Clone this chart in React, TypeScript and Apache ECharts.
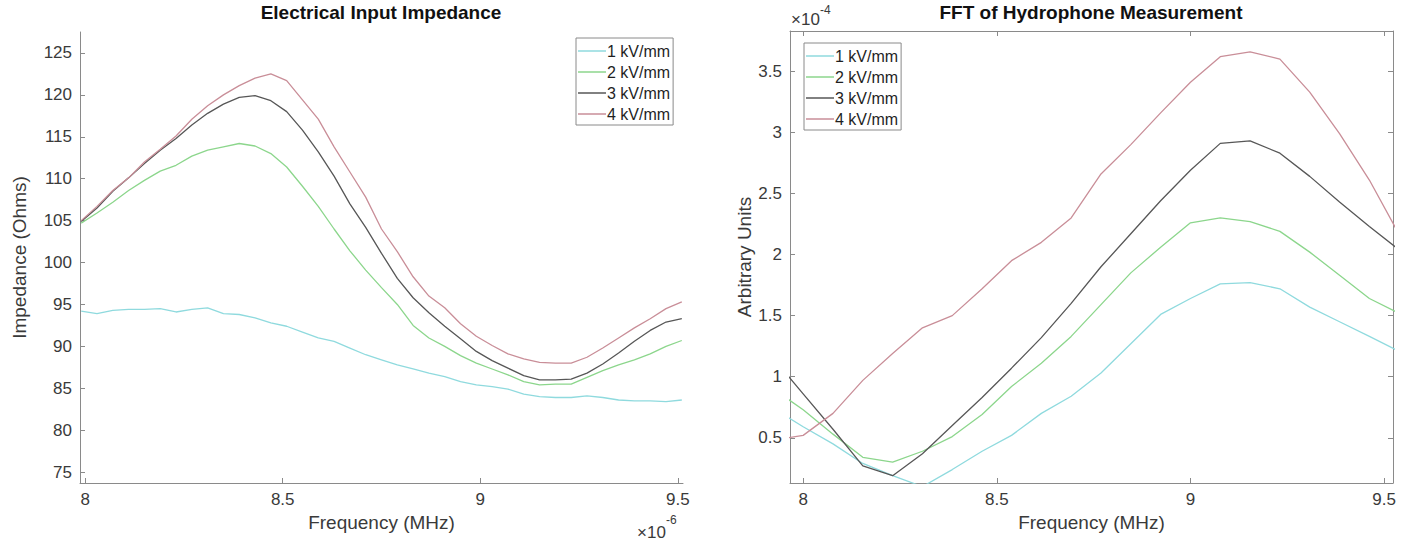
import React, { useEffect, useRef } from "react";
import * as echarts from "echarts";

// ---------- Electrical Input Impedance (Ohms) vs Frequency (MHz) ----------
const FREQ_Z = [7.99, 8.03, 8.07, 8.11, 8.15, 8.19, 8.23, 8.27, 8.31, 8.35, 8.39, 8.43, 8.47, 8.51, 8.55, 8.59, 8.63, 8.67, 8.71, 8.75, 8.79, 8.83, 8.87, 8.91, 8.95, 8.99, 9.03, 9.07, 9.11, 9.15, 9.19, 9.23, 9.27, 9.31, 9.35, 9.39, 9.43, 9.47, 9.51];
const Z_1KV = [94.2, 93.9, 94.3, 94.4, 94.4, 94.5, 94.1, 94.4, 94.6, 93.9, 93.8, 93.4, 92.8, 92.4, 91.7, 91.0, 90.6, 89.8, 89.0, 88.4, 87.8, 87.3, 86.8, 86.4, 85.8, 85.4, 85.2, 84.9, 84.3, 84.0, 83.9, 83.9, 84.1, 83.9, 83.6, 83.5, 83.5, 83.4, 83.6];
const Z_2KV = [104.7, 105.9, 107.2, 108.6, 109.8, 110.9, 111.6, 112.7, 113.4, 113.8, 114.2, 113.9, 113.0, 111.4, 109.1, 106.7, 104.0, 101.4, 99.1, 97.0, 95.0, 92.5, 91.0, 90.0, 88.9, 88.0, 87.3, 86.6, 85.8, 85.4, 85.5, 85.5, 86.3, 87.1, 87.8, 88.4, 89.1, 90.0, 90.7];
const Z_3KV = [104.9, 106.5, 108.5, 110.1, 111.8, 113.4, 114.8, 116.4, 117.8, 118.9, 119.7, 119.9, 119.3, 118.0, 115.8, 113.2, 110.3, 107.0, 104.2, 101.1, 98.1, 95.8, 94.0, 92.4, 90.9, 89.4, 88.3, 87.4, 86.5, 86.0, 86.0, 86.1, 86.8, 87.9, 89.2, 90.6, 91.9, 92.9, 93.3];
const Z_4KV = [105.0, 106.7, 108.6, 110.1, 112.0, 113.5, 115.1, 117.1, 118.7, 120.0, 121.1, 122.0, 122.5, 121.7, 119.4, 117.1, 113.8, 110.8, 107.8, 104.0, 101.3, 98.3, 96.0, 94.6, 92.7, 91.2, 90.1, 89.1, 88.5, 88.1, 88.0, 88.0, 88.7, 89.8, 91.0, 92.2, 93.3, 94.5, 95.3];

// ---------- FFT of Hydrophone Measurement (arbitrary units, x 1e-4) ----------
const FREQ_FFT = [7.923, 8.0, 8.077, 8.154, 8.231, 8.308, 8.385, 8.462, 8.538, 8.615, 8.692, 8.769, 8.846, 8.923, 9.0, 9.077, 9.154, 9.231, 9.308, 9.385, 9.462, 9.538];
const FFT_1KV = [0.74, 0.59, 0.45, 0.29, 0.19, 0.10, 0.24, 0.39, 0.52, 0.70, 0.84, 1.03, 1.27, 1.51, 1.64, 1.76, 1.77, 1.72, 1.57, 1.45, 1.33, 1.21];
const FFT_2KV = [0.90, 0.73, 0.53, 0.34, 0.30, 0.39, 0.51, 0.69, 0.92, 1.11, 1.33, 1.59, 1.85, 2.06, 2.26, 2.30, 2.27, 2.19, 2.02, 1.83, 1.64, 1.52];
const FFT_3KV = [1.15, 0.86, 0.57, 0.27, 0.19, 0.37, 0.60, 0.83, 1.07, 1.32, 1.60, 1.90, 2.17, 2.44, 2.69, 2.91, 2.93, 2.83, 2.64, 2.43, 2.23, 2.04];
const FFT_4KV = [0.48, 0.52, 0.70, 0.97, 1.19, 1.40, 1.50, 1.72, 1.95, 2.10, 2.30, 2.66, 2.90, 3.16, 3.41, 3.62, 3.66, 3.60, 3.33, 2.99, 2.61, 2.17];

const SERIES_NAMES = ["1 kV/mm", "2 kV/mm", "3 kV/mm", "4 kV/mm"];
const COLORS = ["#8fdade", "#8cd68c", "#575757", "#c98e98"];

const FREQ_TICKS = [8, 8.5, 9, 9.5];
const Z_TICKS = [75, 80, 85, 90, 95, 100, 105, 110, 115, 120, 125];
const FFT_TICKS = [0.5, 1, 1.5, 2, 2.5, 3, 3.5];

const FONT = "'Liberation Sans', Arial, Helvetica, sans-serif";
const AXIS_COLOR = "#8a8a8a";
const LABEL_COLOR = "#3a3a3a";

function zip(xs: number[], ys: number[]) {
  return xs.map((x, i) => [x, ys[i]]);
}

function valueAxis(opts: any) {
  const { ticks, showLabels, ...rest } = opts;
  return {
    type: "value",
    axisLine: { show: true, onZero: false, lineStyle: { color: AXIS_COLOR, width: 1 } },
    axisTick: { show: true, inside: true, length: 5, customValues: ticks, lineStyle: { color: AXIS_COLOR } },
    axisLabel: {
      show: showLabels !== false,
      customValues: ticks,
      color: LABEL_COLOR,
      fontSize: 17,
      fontFamily: FONT,
    },
    splitLine: { show: false },
    nameTextStyle: { color: LABEL_COLOR, fontSize: 19, fontFamily: FONT },
    ...rest,
  };
}

export default function App() {
  const ref = useRef<HTMLDivElement>(null);

  useEffect(() => {
    if (!ref.current) return;
    const chart = echarts.init(ref.current, undefined, { renderer: "svg" });

    const zData = [Z_1KV, Z_2KV, Z_3KV, Z_4KV];
    const fftData = [FFT_1KV, FFT_2KV, FFT_3KV, FFT_4KV];

    const series: any[] = [];
    zData.forEach((d, i) => {
      series.push({
        type: "line",
        name: SERIES_NAMES[i],
        xAxisIndex: 0,
        yAxisIndex: 0,
        data: zip(FREQ_Z, d),
        symbol: "none",
        smooth: false,
        clip: true,
        lineStyle: { color: COLORS[i], width: 1.3 },
        itemStyle: { color: COLORS[i] },
      });
    });
    fftData.forEach((d, i) => {
      series.push({
        type: "line",
        name: SERIES_NAMES[i],
        xAxisIndex: 1,
        yAxisIndex: 1,
        data: zip(FREQ_FFT, d),
        symbol: "none",
        smooth: false,
        clip: true,
        lineStyle: { color: COLORS[i], width: 1.3 },
        itemStyle: { color: COLORS[i] },
      });
    });

    const legendBase = {
      orient: "vertical",
      data: SERIES_NAMES,
      icon: "rect",
      itemWidth: 28,
      itemHeight: 1.5,
      itemGap: 5,
      padding: [5, 3, 3, 2],
      borderColor: "#8a8a8a",
      borderWidth: 1,
      backgroundColor: "#ffffff",
      selectedMode: false,
      itemStyle: { borderWidth: 0 },
      lineStyle: { width: 0 },
      textStyle: { color: "#1f1f1f", fontSize: 16, fontFamily: FONT, padding: [0, 0, 0, -4], lineHeight: 16 },
    };

    chart.setOption({
      animation: false,
      backgroundColor: "#ffffff",
      title: [
        {
          text: "Electrical Input Impedance",
          left: 381,
          top: 3,
          textAlign: "center",
          padding: 0,
          textStyle: { color: "#111", fontSize: 19, fontWeight: "bold", fontFamily: FONT },
        },
        {
          text: "FFT of Hydrophone Measurement",
          left: 1091,
          top: 3,
          textAlign: "center",
          padding: 0,
          textStyle: { color: "#111", fontSize: 19, fontWeight: "bold", fontFamily: FONT },
        },
      ],
      legend: [
        { ...legendBase, left: 576, top: 38 },
        { ...legendBase, left: 804, top: 43 },
      ],
      grid: [
        { left: 80, top: 32, width: 603, height: 451, containLabel: false },
        { left: 790, top: 31, width: 603, height: 452, containLabel: false },
      ],
      xAxis: [
        valueAxis({
          gridIndex: 0,
          min: 7.987,
          max: 9.513,
          ticks: FREQ_TICKS,
          name: "Frequency (MHz)",
          nameLocation: "middle",
          nameGap: 30,
          position: "bottom",
        }),
        valueAxis({
          gridIndex: 1,
          min: 7.966,
          max: 9.523,
          ticks: FREQ_TICKS,
          name: "Frequency (MHz)",
          nameLocation: "middle",
          nameGap: 30,
          position: "bottom",
        }),
        valueAxis({
          gridIndex: 1,
          min: 7.966,
          max: 9.523,
          ticks: FREQ_TICKS,
          showLabels: false,
          position: "top",
        }),
      ],
      yAxis: [
        valueAxis({
          gridIndex: 0,
          min: 73.7,
          max: 127.5,
          ticks: Z_TICKS,
          name: "Impedance (Ohms)",
          nameLocation: "middle",
          nameGap: 51,
          position: "left",
        }),
        valueAxis({
          gridIndex: 1,
          min: 0.13,
          max: 3.83,
          ticks: FFT_TICKS,
          name: "Arbitrary Units",
          nameLocation: "middle",
          nameGap: 34,
          position: "left",
        }),
        valueAxis({
          gridIndex: 1,
          min: 0.13,
          max: 3.83,
          ticks: FFT_TICKS,
          showLabels: false,
          position: "right",
        }),
      ],
      graphic: [
        {
          type: "text",
          left: 637,
          top: 524,
          style: { text: "×10", fontSize: 17, fontFamily: FONT, fill: LABEL_COLOR },
        },
        {
          type: "text",
          left: 666,
          top: 514,
          style: { text: "-6", fontSize: 12, fontFamily: FONT, fill: LABEL_COLOR },
        },
        {
          type: "text",
          left: 791,
          top: 11,
          style: { text: "×10", fontSize: 17, fontFamily: FONT, fill: LABEL_COLOR },
        },
        {
          type: "text",
          left: 820,
          top: 4,
          style: { text: "-4", fontSize: 12, fontFamily: FONT, fill: LABEL_COLOR },
        },
      ],
      series,
    });

    return () => {
      chart.dispose();
    };
  }, []);

  return (
    <div
      ref={ref}
      style={{ position: "absolute", left: 0, top: 0, width: 1412, height: 542, background: "#fff" }}
    />
  );
}
